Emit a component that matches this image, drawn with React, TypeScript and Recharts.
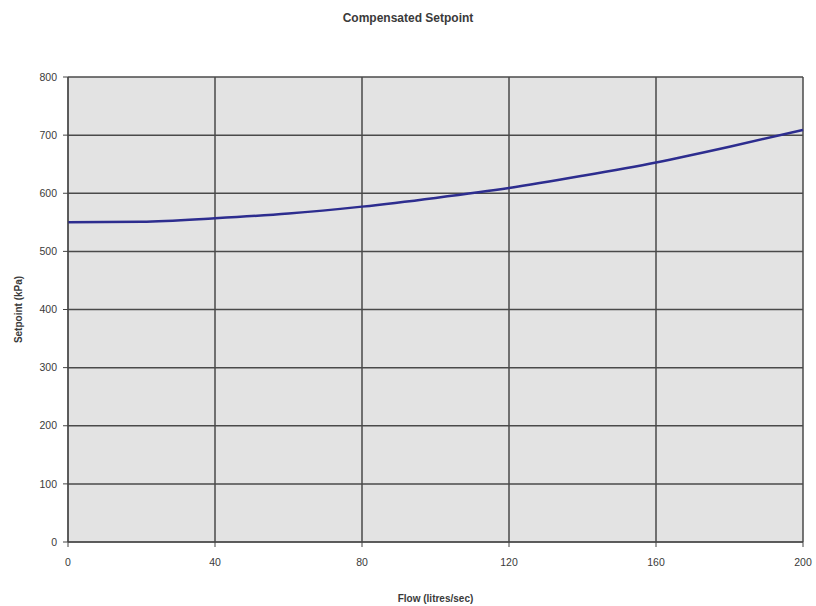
import React from "react";
import { LineChart, Line, XAxis, YAxis, CartesianGrid, Label } from "recharts";

const flow = [0, 20, 40, 60, 80, 100, 120, 140, 160, 180, 200];
const setpoint = [550, 551, 557, 565, 577, 592, 609, 630, 653, 680, 709];
const xTicks = [0, 40, 80, 120, 160, 200];
const yTicks = [0, 100, 200, 300, 400, 500, 600, 700, 800];

const data = flow.map((f, i) => ({ flow: f, setpoint: setpoint[i] }));

const FONT = "'Liberation Sans', Arial, sans-serif";
const TICK = { fontSize: 10.5, fill: "#3a3a3a", fontFamily: FONT };

export default function App() {
  return (
    <div style={{ position: "absolute", left: 0, top: 0, width: 816, height: 606, background: "#fff" }}>
      <div
        style={{
          position: "absolute",
          top: 11,
          left: 0,
          width: 816,
          textAlign: "center",
          fontFamily: FONT,
          fontSize: 12,
          fontWeight: "bold",
          color: "#3a3a3a",
        }}
      >
        Compensated Setpoint
      </div>
      <LineChart width={816} height={606} data={data} margin={{ top: 77, right: 13, bottom: 0, left: 0 }}>
        <CartesianGrid stroke="#4a4a4a" strokeWidth={1.5} fill="#e3e3e3" />
        <XAxis
          dataKey="flow"
          type="number"
          domain={[0, 200]}
          ticks={xTicks}
          tick={TICK}
          tickSize={5}
          tickMargin={12}
          height={64}
          stroke="#444"
        >
          <Label
            value="Flow (litres/sec)"
            position="insideBottom"
            offset={4}
            style={{ fontSize: 10, fontWeight: "bold", fill: "#3a3a3a", fontFamily: FONT }}
          />
        </XAxis>
        <YAxis
          type="number"
          domain={[0, 800]}
          ticks={yTicks}
          tick={TICK}
          tickSize={5}
          tickMargin={6}
          width={68}
          stroke="#444"
          interval={0}
        >
          <Label
            value="Setpoint (kPa)"
            angle={-90}
            position="insideLeft"
            offset={18}
            style={{ fontSize: 10, fontWeight: "bold", fill: "#3a3a3a", fontFamily: FONT, textAnchor: "middle" }}
          />
        </YAxis>
        <Line
          type="monotone"
          dataKey="setpoint"
          stroke="#2d2d8f"
          strokeWidth={2.5}
          dot={false}
          isAnimationActive={false}
        />
      </LineChart>
    </div>
  );
}
